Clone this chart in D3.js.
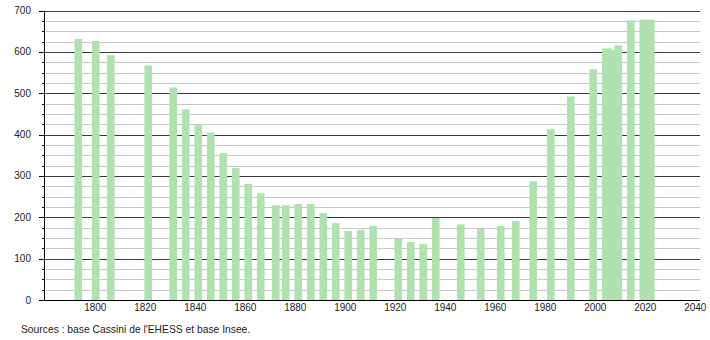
<!DOCTYPE html>
<html>
<head>
<meta charset="utf-8">
<script src="https://cdn.jsdelivr.net/npm/d3@7"></script>
<style>
    body { margin: 0; background: #fff; }
    svg { display: block; font-family: "Liberation Sans", Arial, sans-serif; }
    .tick-label { font-size: 10px; fill: #222; }
    .source { font-size: 10.3px; fill: #222; }
</style>
</head>
<body>
<div id="chart"></div>
<script>
// Census years and population
const years = [1793, 1800, 1806, 1821, 1831, 1836, 1841, 1846, 1851, 1856,
    1861, 1866, 1872, 1876, 1881, 1886, 1891, 1896, 1901, 1906,
    1911, 1921, 1926, 1931, 1936, 1946, 1954, 1962, 1968, 1975,
    1982, 1990, 1999, 2004, 2005, 2007, 2009, 2014, 2019, 2022];
const population = [631, 626, 592, 567, 514, 461, 424, 405, 355, 319,
    281, 258, 229, 229, 232, 232, 210, 186, 167, 169,
    179, 148, 140, 135, 198, 183, 172, 179, 191, 287,
    413, 492, 558, 608, 608, 604, 616, 676, 678, 678];
const xTickYears = [1800, 1820, 1840, 1860, 1880, 1900, 1920, 1940, 1960, 1980, 2000, 2020, 2040];
const yMajorTicks = [0, 100, 200, 300, 400, 500, 600, 700];
const sourceText = "Sources : base Cassini de l'EHESS et base Insee.";

const width = 710;
const height = 340;
const plot = { left: 44, right: 700, top: 10.5, bottom: 300 };

const svg = d3.select('#chart')
    .append('svg')
    .attr('width', width)
    .attr('height', height);

const x = d3.scaleLinear()
    .domain([1779.3, 2041.7])
    .range([plot.left, plot.right]);

const y = d3.scaleLinear()
    .domain([0, 700])
    .range([plot.bottom, plot.top]);

// Minor grid every 25, major every 100
const minorTicks = d3.range(0, 701, 25).filter(v => v % 100 !== 0);

svg.append('g')
    .selectAll('line')
    .data(minorTicks)
    .enter()
    .append('line')
    .attr('x1', plot.left)
    .attr('x2', plot.right)
    .attr('y1', d => Math.round(y(d)) + 0.5)
    .attr('y2', d => Math.round(y(d)) + 0.5)
    .attr('stroke', '#c8c8c8')
    .attr('stroke-width', 1);

svg.append('g')
    .selectAll('line')
    .data(yMajorTicks.filter(v => v > 0))
    .enter()
    .append('line')
    .attr('x1', plot.left)
    .attr('x2', plot.right)
    .attr('y1', d => Math.round(y(d)) + 0.5)
    .attr('y2', d => Math.round(y(d)) + 0.5)
    .attr('stroke', '#3a3a3a')
    .attr('stroke-width', 1);

// Bars
const barWidth = 7.7;
svg.append('g')
    .selectAll('rect')
    .data(years.map((yr, i) => ({ year: yr, value: population[i] })))
    .enter()
    .append('rect')
    .attr('x', d => x(d.year) - barWidth / 2)
    .attr('width', barWidth)
    .attr('y', d => y(d.value))
    .attr('height', d => y(0) - y(d.value))
    .attr('fill', '#b0e2b0');

// Y axis: line, ticks and labels
svg.append('line')
    .attr('x1', plot.left + 0.5)
    .attr('x2', plot.left + 0.5)
    .attr('y1', y(700))
    .attr('y2', y(0))
    .attr('stroke', '#000');

svg.append('g')
    .selectAll('line')
    .data(minorTicks)
    .enter()
    .append('line')
    .attr('x1', plot.left - 2)
    .attr('x2', plot.left)
    .attr('y1', d => Math.round(y(d)) + 0.5)
    .attr('y2', d => Math.round(y(d)) + 0.5)
    .attr('stroke', '#000');

svg.append('g')
    .selectAll('line')
    .data(yMajorTicks)
    .enter()
    .append('line')
    .attr('x1', plot.left - 5)
    .attr('x2', plot.left)
    .attr('y1', d => Math.round(y(d)) + 0.5)
    .attr('y2', d => Math.round(y(d)) + 0.5)
    .attr('stroke', '#000');

svg.append('g')
    .selectAll('text')
    .data(yMajorTicks)
    .enter()
    .append('text')
    .attr('class', 'tick-label')
    .attr('x', 31)
    .attr('y', d => y(d))
    .attr('dy', '0.35em')
    .attr('text-anchor', 'end')
    .text(d => d);

// X axis line and labels
svg.append('line')
    .attr('x1', plot.left)
    .attr('x2', plot.right)
    .attr('y1', plot.bottom + 0.5)
    .attr('y2', plot.bottom + 0.5)
    .attr('stroke', '#000');

svg.append('g')
    .selectAll('text')
    .data(xTickYears)
    .enter()
    .append('text')
    .attr('class', 'tick-label')
    .attr('x', d => x(d) - 0.5)
    .attr('y', 311)
    .attr('text-anchor', 'middle')
    .text(d => d);

svg.append('text')
    .attr('class', 'source')
    .attr('x', 21)
    .attr('y', 333)
    .text(sourceText);
</script>
</body>
</html>
